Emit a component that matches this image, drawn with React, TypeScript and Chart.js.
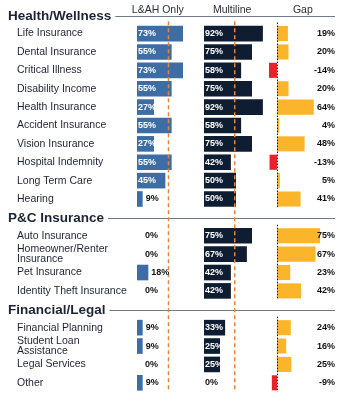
import React, { useEffect, useRef } from "react";
import { Chart, registerables } from "chart.js";
Chart.register(...registerables);

const sectionNames = ["Health/Wellness", "P&C Insurance", "Financial/Legal"];
const healthItems = ["Life Insurance", "Dental Insurance", "Critical Illness", "Disability Income", "Health Insurance", "Accident Insurance", "Vision Insurance", "Hospital Indemnity", "Long Term Care", "Hearing"];
const healthLAH = [73, 55, 73, 55, 27, 55, 27, 55, 45, 9];
const healthMulti = [92, 75, 58, 75, 92, 58, 75, 42, 50, 50];
const healthGap = [19, 20, -14, 20, 64, 4, 48, -13, 5, 41];
const pcItems: (string | string[])[] = ["Auto Insurance", ["Homeowner/Renter", "Insurance"], "Pet Insurance", "Identity Theft Insurance"];
const pcLAH = [0, 0, 18, 0];
const pcMulti = [75, 67, 42, 42];
const pcGap = [75, 67, 23, 42];
const finItems: (string | string[])[] = ["Financial Planning", ["Student Loan", "Assistance"], "Legal Services", "Other"];
const finLAH = [9, 9, 0, 9];
const finMulti = [33, 25, 25, 0];
const finGap = [24, 16, 25, -9];
const columnTitles = ["L&AH Only", "Multiline", "Gap"];
const lahMarker = 50;
const multiMarker = 48;

const sections = [
  { name: sectionNames[0], items: healthItems as (string | string[])[], lah: healthLAH, multi: healthMulti, gap: healthGap },
  { name: sectionNames[1], items: pcItems, lah: pcLAH, multi: pcMulti, gap: pcGap },
  { name: sectionNames[2], items: finItems, lah: finLAH, multi: finMulti, gap: finGap },
];

const labels: (string | string[])[] = [];
const isHeader: boolean[] = [];
const lahData: (number | null)[] = [];
const multiData: (number | null)[] = [];
const gapData: (number | null)[] = [];
const sectionRanges: { header: number; first: number; last: number }[] = [];
sections.forEach((s) => {
  const h = labels.length;
  labels.push(s.name); isHeader.push(true);
  lahData.push(null); multiData.push(null); gapData.push(null);
  s.items.forEach((it, i) => {
    labels.push(it); isHeader.push(false);
    lahData.push(s.lah[i]); multiData.push(s.multi[i]); gapData.push(s.gap[i]);
  });
  sectionRanges.push({ header: h, first: h + 1, last: labels.length - 1 });
});

const FONT = "'Liberation Sans', Arial, sans-serif";
const TEXT = "#1c2333";
const BLUE = "#3d6da4";
const NAVY = "#0f1d33";
const AMBER = "#fbb52b";
const RED = "#e8212a";
const ORANGE = "#e8843a";

const overlay = {
  id: "overlay",
  afterDatasetsDraw(chart: any) {
    const ctx = chart.ctx as CanvasRenderingContext2D;
    const y = chart.scales.y;
    const xL = chart.scales.xL, xM = chart.scales.xM, xG = chart.scales.xG;
    const rightEdge = 335;
    ctx.save();
    ctx.textBaseline = "middle";

    // column titles
    ctx.font = `10.5px ${FONT}`;
    ctx.fillStyle = "#2a2f3a";
    ctx.textAlign = "center";
    const firstY = y.getPixelForValue(0);
    ctx.fillText(columnTitles[0], xL.getPixelForValue(33), firstY - 5);
    ctx.fillText(columnTitles[1], xM.getPixelForValue(44), firstY - 5);
    ctx.fillText(columnTitles[2], xG.getPixelForValue(45), firstY - 5);

    // row labels and headers
    labels.forEach((lab, i) => {
      const py = y.getPixelForValue(i);
      if (isHeader[i]) {
        ctx.font = `bold 13.5px ${FONT}`;
        ctx.fillStyle = TEXT;
        ctx.textAlign = "left";
        const txt = lab as string;
        ctx.fillText(txt, 8, py + 1);
        const w = ctx.measureText(txt).width;
        ctx.strokeStyle = "#6f7b8a";
        ctx.lineWidth = 1;
        ctx.beginPath();
        ctx.moveTo(8 + w + 4, Math.round(py + 1) + 0.5);
        ctx.lineTo(rightEdge, Math.round(py + 1) + 0.5);
        ctx.stroke();
      } else {
        ctx.font = `10.5px ${FONT}`;
        ctx.fillStyle = TEXT;
        ctx.textAlign = "left";
        if (Array.isArray(lab)) {
          const lh = 10;
          lab.forEach((l, k) => ctx.fillText(l, 17, py + (k - (lab.length - 1) / 2) * lh));
        } else {
          ctx.fillText(lab, 17, py);
        }
      }
    });

    // marker dashed lines
    const topY = firstY + 6;
    const botY = y.getPixelForValue(labels.length - 1) + 9;
    ctx.strokeStyle = ORANGE;
    ctx.lineWidth = 1.5;
    ctx.setLineDash([4, 3]);
    [xL.getPixelForValue(lahMarker), xM.getPixelForValue(multiMarker)].forEach((px) => {
      ctx.beginPath();
      ctx.moveTo(px, topY);
      ctx.lineTo(px, botY);
      ctx.stroke();
    });

    // zero dotted lines in gap column
    ctx.strokeStyle = "#111";
    ctx.lineWidth = 1;
    ctx.setLineDash([1.5, 1.5]);
    const zx = Math.round(xG.getPixelForValue(0)) + 0.5;
    sectionRanges.forEach((r) => {
      ctx.beginPath();
      ctx.moveTo(zx, y.getPixelForValue(r.first) - 11);
      ctx.lineTo(zx, y.getPixelForValue(r.last) + 9);
      ctx.stroke();
    });
    ctx.setLineDash([]);

    // value labels
    ctx.font = `bold 9px ${FONT}`;
    labels.forEach((_, i) => {
      if (isHeader[i]) return;
      const py = y.getPixelForValue(i);
      const a = lahData[i] as number;
      const start = xL.getPixelForValue(0);
      const end = xL.getPixelForValue(a);
      ctx.textAlign = "left";
      if (a >= 25) {
        ctx.fillStyle = "#ffffff";
        ctx.fillText(`${a}%`, start + 1, py);
      } else {
        ctx.fillStyle = "#111";
        ctx.fillText(`${a}%`, Math.max(end + 3, start + 8), py);
      }
      const m = multiData[i] as number;
      ctx.fillStyle = m > 0 ? "#ffffff" : "#111";
      ctx.fillText(`${m}%`, xM.getPixelForValue(0) + 1, py);
      const g = gapData[i] as number;
      ctx.fillStyle = "#111";
      ctx.textAlign = "right";
      ctx.fillText(`${g}%`, rightEdge, py);
    });
    ctx.restore();
  },
};

export default function App() {
  const ref = useRef<HTMLCanvasElement>(null);
  useEffect(() => {
    if (!ref.current) return;
    const chart = new Chart(ref.current, {
      type: "bar",
      data: {
        labels,
        datasets: [
          { label: columnTitles[0], data: lahData, xAxisID: "xL", backgroundColor: BLUE, grouped: false, barPercentage: 0.85, categoryPercentage: 1 } as any,
          { label: columnTitles[1], data: multiData, xAxisID: "xM", backgroundColor: NAVY, grouped: false, barPercentage: 0.85, categoryPercentage: 1 } as any,
          {
            label: columnTitles[2], data: gapData, xAxisID: "xG", grouped: false, barPercentage: 0.82, categoryPercentage: 1,
            backgroundColor: (c: any) => ((c.raw ?? 0) < 0 ? RED : AMBER),
          } as any,
        ],
      },
      options: {
        indexAxis: "y",
        animation: false,
        responsive: false,
        layout: { padding: { left: 130, right: 5, top: 6, bottom: 22 } },
        plugins: { legend: { display: false }, tooltip: { enabled: false } },
        scales: {
          xL: { type: "linear", position: "bottom", stack: "cols", stackWeight: 70, min: -11.1, max: 100, display: false },
          xM: { type: "linear", position: "bottom", stack: "cols", stackWeight: 65, min: -6.25, max: 95.3, display: false },
          xG: { type: "linear", position: "bottom", stack: "cols", stackWeight: 75, min: -20.9, max: 109.6, display: false },
          y: { type: "category", display: false, offset: true },
        },
      } as any,
      plugins: [overlay],
    });
    return () => chart.destroy();
  }, []);
  return (
    <div style={{ position: "fixed", left: 0, top: 0, width: 345, height: 414, background: "#fff" }}>
      <canvas ref={ref} width={345} height={414} style={{ display: "block" }} />
    </div>
  );
}
